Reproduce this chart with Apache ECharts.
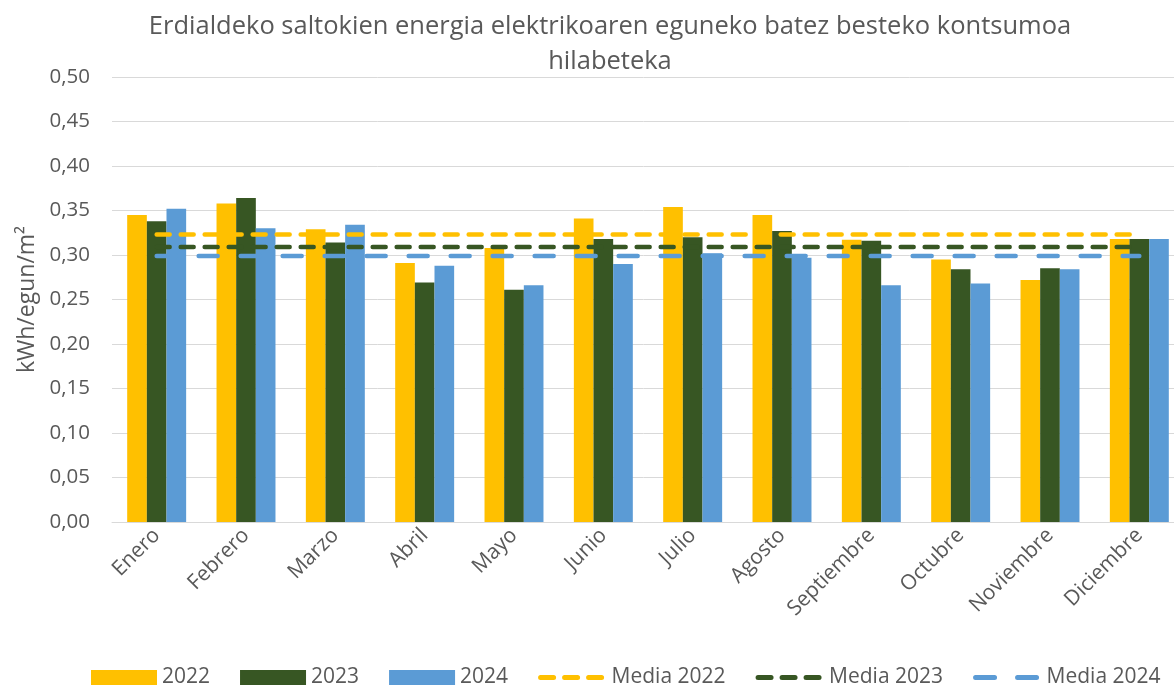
<!DOCTYPE html>
<html style="height: 100%">
<head>
  <meta charset="utf-8">
</head>
<body style="height: 100%; margin: 0">
  <div id="container" style="width: 1174px; height: 686px"></div>
  <script src="https://cdn.jsdelivr.net/npm/echarts@6/dist/echarts.min.js"></script>
  <script>
    var months = ['Enero', 'Febrero', 'Marzo', 'Abril', 'Mayo', 'Junio', 'Julio', 'Agosto',
      'Septiembre', 'Octubre', 'Noviembre', 'Diciembre'];
    var v2022 = [0.345, 0.358, 0.329, 0.291, 0.308, 0.341, 0.354, 0.345, 0.317, 0.295, 0.272, 0.318];
    var v2023 = [0.338, 0.364, 0.314, 0.269, 0.261, 0.318, 0.320, 0.327, 0.316, 0.284, 0.285, 0.318];
    var v2024 = [0.352, 0.330, 0.334, 0.288, 0.266, 0.290, 0.302, 0.297, 0.266, 0.268, 0.284, 0.318];
    var media2022 = 0.323;
    var media2023 = 0.309;
    var media2024 = 0.299;

    var txt = '#595959';
    var font = 'Open Sans';
    var c2022 = '#FFC000', c2023 = '#375623', c2024 = '#5B9BD5';
    var dashShort = [13, 11], dashLong = [19, 23];

    function flat(v) { return months.map(function () { return v; }); }

    var chart = echarts.init(document.getElementById('container'), null, { renderer: 'canvas' });

    var option = {
      animation: false,
      textStyle: { fontFamily: font, color: txt },
      title: {
        text: 'Erdialdeko saltokien energia elektrikoaren eguneko batez besteko kontsumoa\nhilabeteka',
        left: 605, textAlign: 'center', top: 4,
        textStyle: { fontFamily: font, fontSize: 25.5, fontWeight: 'normal', color: txt, lineHeight: 35 }
      },
      legend: {
        top: 662, left: 86,
        itemWidth: 66, itemHeight: 15, itemGap: 30,
        textStyle: { fontFamily: font, fontSize: 21, color: txt },
        data: [
          { name: '2022', icon: 'rect' },
          { name: '2023', icon: 'rect' },
          { name: '2024', icon: 'rect' },
          { name: 'Media 2022', itemStyle: { opacity: 0 }, lineStyle: { width: 5, type: dashShort, cap: 'round' } },
          { name: 'Media 2023', itemStyle: { opacity: 0 }, lineStyle: { width: 5, type: dashShort, cap: 'round' } },
          { name: 'Media 2024', itemStyle: { opacity: 0 }, lineStyle: { width: 5, type: dashLong, cap: 'round' } }]
      },
      grid: { left: 112, top: 77, width: 1072, bottom: 164, outerBoundsMode: 'none' },
      xAxis: {
        type: 'category', data: months,
        axisLine: { lineStyle: { color: '#D9D9D9' } },
        axisTick: { show: false },
        axisLabel: { rotate: 45, fontSize: 21, color: txt, fontFamily: font, margin: 10 }
      },
      yAxis: {
        type: 'value', min: 0, max: 0.5, interval: 0.05,
        name: 'kWh/egun/m²', nameLocation: 'middle', nameGap: 67,
        nameTextStyle: { fontSize: 23, color: txt, fontFamily: font },
        axisLabel: {
          fontSize: 20.5, color: txt, fontFamily: font, margin: 22,
          formatter: function (v) { return v.toFixed(2).replace('.', ','); }
        },
        splitLine: { lineStyle: { color: '#D9D9D9' } }
      },
      series: [
        { name: '2022', type: 'bar', data: v2022, itemStyle: { color: c2022 }, barGap: '0%', barCategoryGap: '34%' },
        { name: '2023', type: 'bar', data: v2023, itemStyle: { color: c2023 } },
        { name: '2024', type: 'bar', data: v2024, itemStyle: { color: c2024 } },
        { name: 'Media 2022', type: 'line', data: flat(media2022), symbol: 'none',
          itemStyle: { color: c2022 },
          lineStyle: { color: c2022, width: 4.5, type: dashShort, cap: 'round' } },
        { name: 'Media 2023', type: 'line', data: flat(media2023), symbol: 'none',
          itemStyle: { color: c2023 },
          lineStyle: { color: c2023, width: 4.5, type: dashShort, cap: 'round' } },
        { name: 'Media 2024', type: 'line', data: flat(media2024), symbol: 'none',
          itemStyle: { color: c2024 },
          lineStyle: { color: c2024, width: 4.5, type: dashLong, cap: 'round' } }
      ]
    };
    chart.setOption(option);
  </script>
</body>
</html>
